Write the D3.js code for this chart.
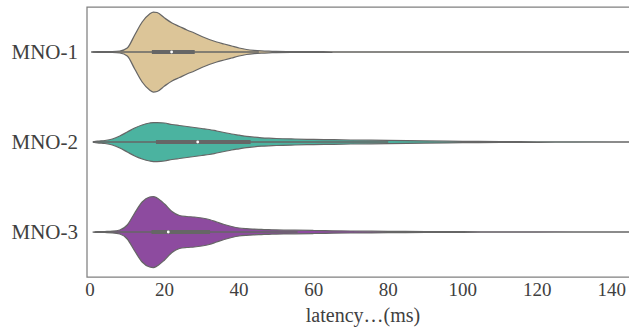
<!DOCTYPE html>
<html>
<head>
<meta charset="utf-8">
<script src="https://cdn.jsdelivr.net/npm/d3@7"></script>
<style>
  body { margin: 0; background: #fff; }
  text { font-family: "Liberation Serif", "DejaVu Serif", serif; fill: #404040; }
</style>
</head>
<body>
<div id="chart"></div>
<script>
var width = 629, height = 331;

// categories and colours
var categories = ["MNO-1", "MNO-2", "MNO-3"];
var colors = ["#dcc598", "#4bb3a0", "#8d4b9f"];

// latency grid (ms) at which the violin widths were read
var latency = [0.8, 2, 4, 6, 8, 10, 12, 14, 16, 17, 18, 20, 22, 24, 26, 28, 30, 32, 34, 36, 38, 40,
               42, 44, 46, 48, 50, 55, 60, 65, 70, 80, 90, 100, 110, 120, 130, 140, 150];

// relative violin half-widths for each MNO at the grid above
var mno1Width = [0.2, 0.3, 0.4, 0.5, 1.0, 4, 17, 30, 38, 40, 39.5, 34, 29, 25.5, 22, 19, 15.5, 12.5, 10, 8, 6, 4,
                 2.5, 1.6, 1.1, 0.8, 0.6, 0.4, 0.3, 0.25, 0.2, 0.2, 0.15, 0.15, 0.15, 0.12, 0.12, 0.1, 0.1];
var mno2Width = [0, 0.8, 1.5, 3, 6, 10, 14, 17, 19, 19.5, 19.5, 19, 17.5, 16.5, 15.5, 14.5, 13.5, 12.5, 11, 9.5, 8, 6.8,
                 5.6, 4.8, 4.2, 3.8, 3.5, 3.0, 2.6, 2.3, 2.0, 1.6, 1.1, 0.7, 0.4, 0.25, 0.15, 0.1, 0.1];
var mno3Width = [0, 0.3, 0.5, 0.8, 2, 7, 19, 30, 35, 35.5, 34, 28, 20.5, 16.5, 15.5, 15, 14, 12.5, 10, 7.5, 5.5, 4,
                 3.3, 2.9, 2.6, 2.3, 2.1, 1.8, 1.5, 1.2, 1.0, 0.7, 0.45, 0.3, 0.2, 0.15, 0.12, 0.1, 0.1];
var widths = [mno1Width, mno2Width, mno3Width];

// box statistics (ms)
var whiskerLow = [0.3, 0.8, 1.3];
var q1 = [16.6, 17.7, 16.5];
var median = [21.9, 28.9, 21.0];
var q3 = [28.1, 43.1, 32.2];
var whiskerHigh = [45.3, 80, 55.7];

var xTicks = [0, 20, 40, 60, 80, 100, 120, 140];

var plotLeft = 87, plotTop = 7, plotBottom = 277, plotRight = 629;

var svg = d3.select("#chart").append("svg")
    .attr("width", width)
    .attr("height", height);

var x = d3.scaleLinear().domain([-0.8, 144.6]).range([plotLeft, plotRight]);
var y = d3.scaleBand().domain(categories).range([plotTop, plotBottom]);
var w = d3.scaleLinear().domain([0, 40]).range([0, 40]);

svg.append("clipPath").attr("id", "clip")
  .append("rect").attr("x", plotLeft).attr("y", plotTop)
  .attr("width", plotRight - plotLeft).attr("height", plotBottom - plotTop);

var plot = svg.append("g").attr("clip-path", "url(#clip)");

categories.forEach(function (c, i) {
    var cy = y(c) + y.bandwidth() / 2;
    var pts = latency.map(function (l, j) { return [l, widths[i][j]]; });

    var area = d3.area()
        .x(function (d) { return x(d[0]); })
        .y0(function (d) { return cy - w(d[1]); })
        .y1(function (d) { return cy + w(d[1]); })
        .curve(d3.curveMonotoneX);

    plot.append("path")
        .attr("d", area(pts))
        .attr("fill", colors[i])
        .attr("stroke", "#666")
        .attr("stroke-width", 1.25)
        .attr("stroke-linejoin", "round");

    // whisker
    plot.append("line")
        .attr("x1", x(whiskerLow[i])).attr("x2", x(whiskerHigh[i]))
        .attr("y1", cy).attr("y2", cy)
        .attr("stroke", "#666").attr("stroke-width", 1.3);

    // box
    plot.append("line")
        .attr("x1", x(q1[i])).attr("x2", x(q3[i]))
        .attr("y1", cy).attr("y2", cy)
        .attr("stroke", "#666").attr("stroke-width", 4);

    // median
    plot.append("circle")
        .attr("cx", x(median[i])).attr("cy", cy).attr("r", 1.4)
        .attr("fill", "#fff");

    svg.append("text")
        .attr("x", 78).attr("y", cy + 7)
        .attr("text-anchor", "end")
        .attr("font-size", 21)
        .text(c);
});

// frame
svg.append("path")
    .attr("d", "M" + (plotRight + 2) + "," + plotTop + "H" + plotLeft + "V" + plotBottom + "H" + (plotRight + 2))
    .attr("fill", "none")
    .attr("stroke", "#808080")
    .attr("stroke-width", 1.25);

// x tick labels
svg.selectAll(".xtick").data(xTicks).enter().append("text")
    .attr("class", "xtick")
    .attr("x", function (d) { return x(d); })
    .attr("y", 296)
    .attr("text-anchor", "middle")
    .attr("font-size", 19)
    .text(function (d) { return d; });

svg.append("text")
    .attr("x", 363).attr("y", 322)
    .attr("text-anchor", "middle")
    .attr("font-size", 20)
    .text("latency\u2026(ms)");
</script>
</body>
</html>
